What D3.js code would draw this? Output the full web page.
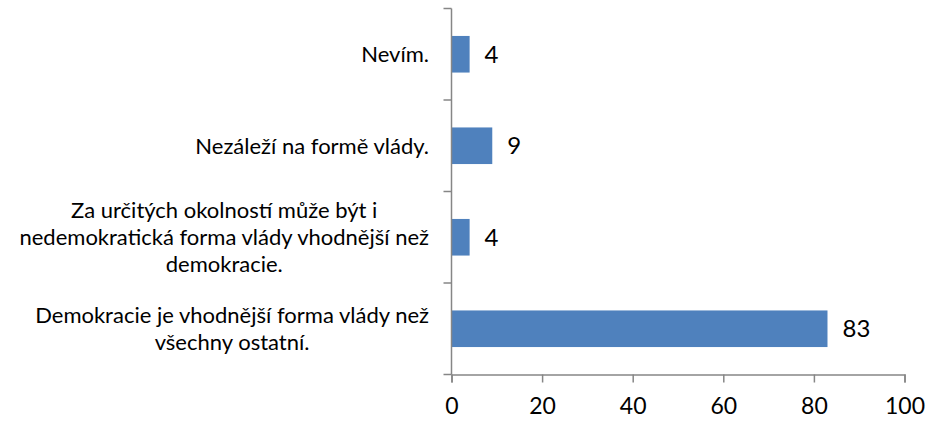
<!DOCTYPE html>
<html lang="cs">
<head>
<meta charset="UTF-8">
<title>Chart</title>
<script src="https://cdn.jsdelivr.net/npm/d3@7"></script>
<style>
  body { margin: 0; background: #fff; }
  text { font-family: Lato, "Open Sans", sans-serif; fill: #000; }
</style>
</head>
<body>
<svg width="930" height="423"></svg>
<script>
// categories from top to bottom
const categories = [
  ['Nevím.'],
  ['Nezáleží na formě vlády.'],
  ['Za určitých okolností může být i', 'nedemokratická forma vlády vhodnější než', 'demokracie.'],
  ['Demokracie je vhodnější forma vlády než', 'všechny ostatní.']
]
const values = [4, 9, 4, 83]
const xTicks = [0, 20, 40, 60, 80, 100]

const svg = d3.select('svg')
const axisColor = '#868686'

const x = d3.scaleLinear().domain([0, 100]).range([451.5, 904.5])
const y = d3.scaleBand().domain(d3.range(categories.length)).range([8.5, 374.5]).paddingInner(0.6).paddingOuter(0.3)

// bars
svg.selectAll('rect.bar')
  .data(values)
  .join('rect')
  .attr('class', 'bar')
  .attr('x', x(0))
  .attr('y', (d, i) => y(i))
  .attr('width', d => x(d) - x(0))
  .attr('height', y.bandwidth())
  .attr('fill', '#4f81bd')

// value labels
svg.selectAll('text.val')
  .data(values)
  .join('text')
  .attr('class', 'val')
  .attr('x', d => x(d) + 15)
  .attr('y', (d, i) => y(i) + y.bandwidth() / 2)
  .attr('dy', '0.36em')
  .style('font-size', '24px')
  .text(d => d)

// category labels, centred block ending near the axis
const lineH = 27
const labels = svg.selectAll('g.cat')
  .data(categories)
  .join('g')
  .attr('class', 'cat')
labels.each(function(lines, i) {
  const g = d3.select(this)
  const cy = y(i) + y.bandwidth() / 2
  const t = g.selectAll('text')
    .data(lines)
    .join('text')
    .attr('y', (d, j) => cy + (j - (lines.length - 1) / 2) * lineH)
    .attr('dy', '0.36em')
    .attr('text-anchor', 'middle')
    .style('font-size', '22px')
    .text(d => d)
  let w = 0
  t.each(function() { w = Math.max(w, this.getComputedTextLength()) })
  t.attr('x', 429 - w / 2)
})

// y axis: line with ticks at band boundaries
const yAxis = svg.append('g')
yAxis.append('line')
  .attr('x1', x(0)).attr('x2', x(0))
  .attr('y1', 8.5).attr('y2', 374.5)
  .attr('stroke', axisColor).attr('stroke-width', 1.5)
const bounds = d3.range(categories.length + 1).map(i => 8.5 + i * y.step())
yAxis.selectAll('line.tick')
  .data(bounds)
  .join('line')
  .attr('class', 'tick')
  .attr('x1', x(0) - 8).attr('x2', x(0))
  .attr('y1', d => d).attr('y2', d => d)
  .attr('stroke', axisColor).attr('stroke-width', 1.5)

// x axis
const xAxis = svg.append('g')
  .attr('transform', 'translate(0,374.5)')
  .call(d3.axisBottom(x).tickValues(xTicks).tickSize(8).tickPadding(15))
xAxis.select('.domain').attr('stroke', axisColor).attr('stroke-width', 1.5)
xAxis.selectAll('.tick line').attr('stroke', axisColor).attr('stroke-width', 1.5)
xAxis.selectAll('.tick text')
  .style('font-size', '23px')
  .style('font-family', 'Lato, "Open Sans", sans-serif')
  .attr('fill', '#000')
</script>
</body>
</html>
